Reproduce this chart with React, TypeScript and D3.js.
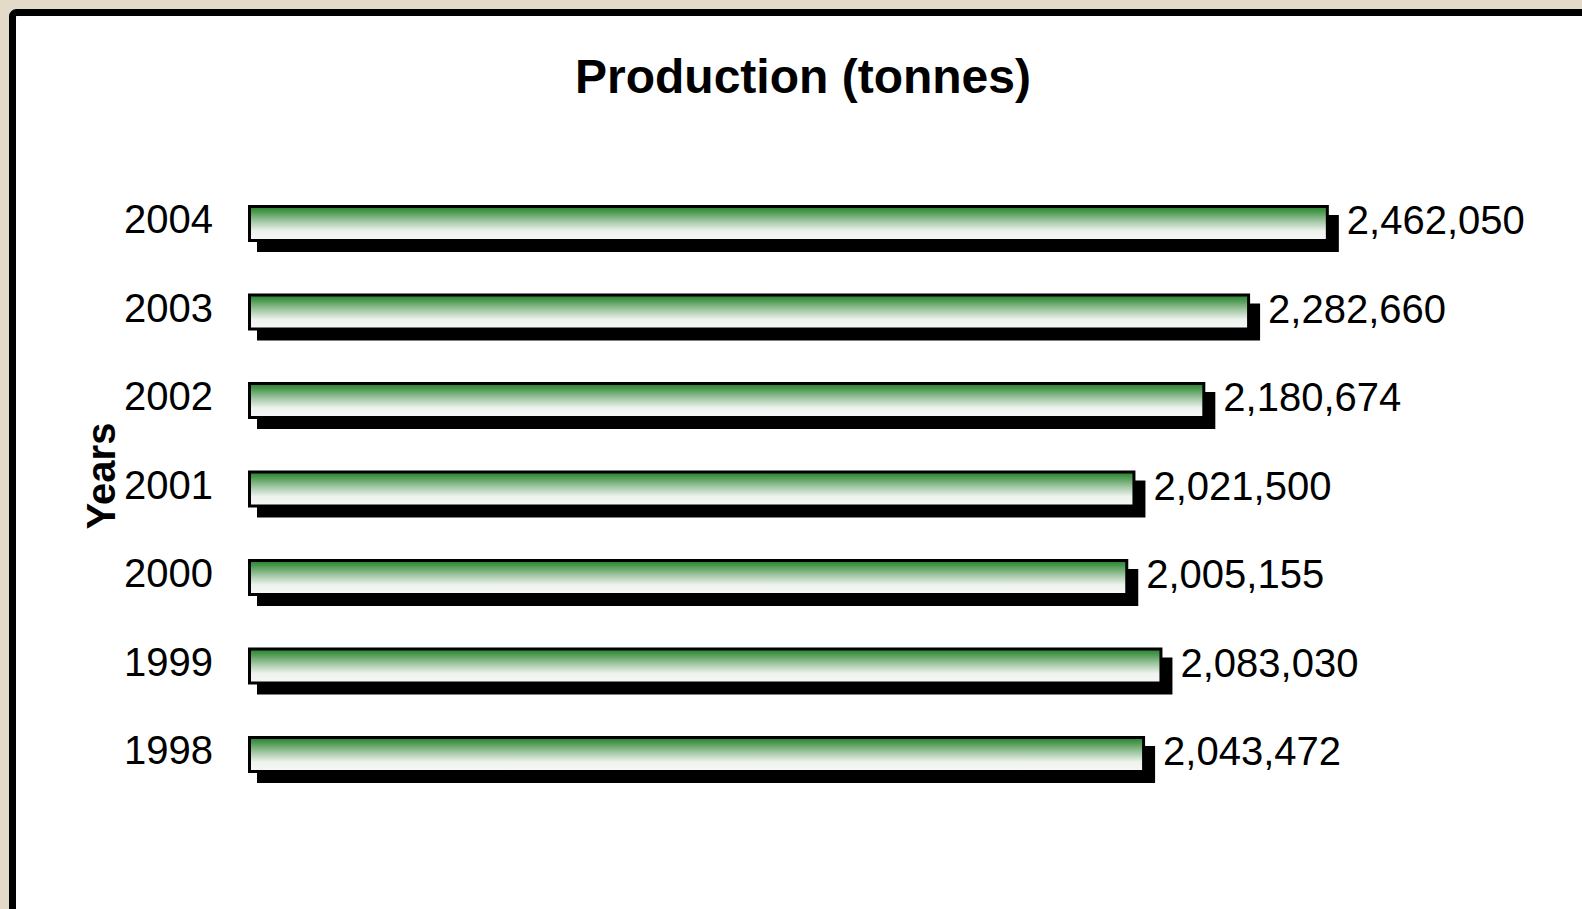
import { useEffect, useRef } from "react";
import * as d3 from "d3";

const years = ["2004", "2003", "2002", "2001", "2000", "1999", "1998"];
const production = [2462050, 2282660, 2180674, 2021500, 2005155, 2083030, 2043472];

const W = 1582;
const H = 909;
const FONT = "'Liberation Sans', Arial, sans-serif";

export default function App() {
  const svgRef = useRef<SVGSVGElement | null>(null);

  useEffect(() => {
    const svg = d3.select(svgRef.current);
    svg.selectAll("*").remove();

    // Beige page + black frame
    svg.append("rect").attr("width", W).attr("height", H).attr("fill", "#e3dac9");
    svg
      .append("rect")
      .attr("x", 12.5)
      .attr("y", 12.5)
      .attr("width", W + 40)
      .attr("height", H + 40)
      .attr("rx", 4)
      .attr("fill", "#fff")
      .attr("stroke", "#000")
      .attr("stroke-width", 7);

    const defs = svg.append("defs");
    const grad = defs
      .append("linearGradient")
      .attr("id", "barGrad")
      .attr("x1", 0)
      .attr("y1", 0)
      .attr("x2", 0)
      .attr("y2", 1);
    [
      [0, "#26822a"],
      [0.15, "#4a984e"],
      [0.45, "#a6c9a8"],
      [0.72, "#edf3ed"],
      [1, "#f7f7f7"],
    ].forEach(([o, c]) => grad.append("stop").attr("offset", o as number).attr("stop-color", c as string));

    const x = d3.scaleLinear().domain([0, 3000000]).range([248, 248 + 1317]);
    const y = d3
      .scaleBand<string>()
      .domain(years)
      .range([179.25, 798.75])
      .paddingInner(0.582)
      .paddingOuter(0.291);

    const data = years.map((yr, i) => ({ yr, v: production[i] }));
    const fmt = d3.format(",");

    // Shadows
    svg
      .append("g")
      .selectAll("rect")
      .data(data)
      .join("rect")
      .attr("x", x(0) + 9)
      .attr("y", (d) => y(d.yr)! + 10)
      .attr("width", (d) => x(d.v) - x(0) + 1)
      .attr("height", y.bandwidth())
      .attr("fill", "#000");

    // Bars
    svg
      .append("g")
      .selectAll("rect")
      .data(data)
      .join("rect")
      .attr("x", x(0) + 1.5)
      .attr("y", (d) => y(d.yr)! + 1.5)
      .attr("width", (d) => x(d.v) - x(0) - 3)
      .attr("height", y.bandwidth() - 3)
      .attr("fill", "url(#barGrad)")
      .attr("stroke", "#000")
      .attr("stroke-width", 3);

    // Value labels
    svg
      .append("g")
      .selectAll("text")
      .data(data)
      .join("text")
      .attr("x", (d) => x(d.v) + 18)
      .attr("y", (d) => y(d.yr)! + 29)
      .attr("font-family", FONT)
      .attr("font-size", 40)
      .attr("fill", "#000")
      .text((d) => fmt(d.v));

    // Year labels
    svg
      .append("g")
      .selectAll("text")
      .data(data)
      .join("text")
      .attr("x", 213)
      .attr("y", (d) => y(d.yr)! + 28)
      .attr("text-anchor", "end")
      .attr("font-family", FONT)
      .attr("font-size", 40)
      .attr("fill", "#000")
      .text((d) => d.yr);

    // Axis title
    svg
      .append("text")
      .attr("transform", "translate(115,476) rotate(-90)")
      .attr("text-anchor", "middle")
      .attr("font-family", FONT)
      .attr("font-weight", "bold")
      .attr("font-size", 40)
      .text("Years");

    // Chart title
    const title = svg
      .append("text")
      .attr("x", 575)
      .attr("y", 93)
      .attr("font-family", FONT)
      .attr("font-weight", "bold")
      .attr("fill", "#000");
    title.append("tspan").attr("font-size", 48).text("Production ");
    title.append("tspan").attr("font-size", 48).text("(tonnes)");
  }, []);

  return (
    <div style={{ position: "fixed", left: 0, top: 0, width: W, height: H }}>
      <svg ref={svgRef} width={W} height={H} style={{ display: "block" }} />
    </div>
  );
}
